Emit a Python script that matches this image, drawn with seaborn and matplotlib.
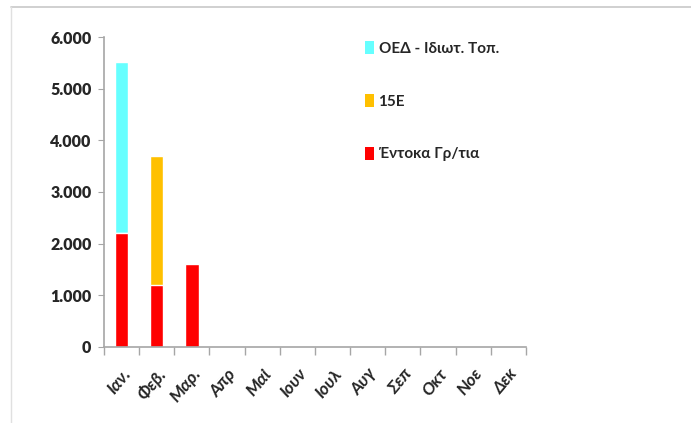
import numpy as np
import pandas as pd
import seaborn as sns
import matplotlib.pyplot as plt
from matplotlib.lines import Line2D
from matplotlib.patches import Patch
from matplotlib.ticker import FuncFormatter, FixedLocator

# Data
months = ['Ιαν.', 'Φεβ.', 'Μαρ.', 'Απρ', 'Μαϊ', 'Ιουν', 'Ιουλ', 'Αυγ', 'Σεπ', 'Οκτ', 'Νοε', 'Δεκ']
entoka = [2200, 1200, 1600, 0, 0, 0, 0, 0, 0, 0, 0, 0]
e15 = [0, 2500, 0, 0, 0, 0, 0, 0, 0, 0, 0, 0]
oed = [3320, 0, 0, 0, 0, 0, 0, 0, 0, 0, 0, 0]

labels = ['ΟΕΔ - Ιδιωτ. Τοπ.', '15Ε', 'Έντοκα Γρ/τια']
colors = ['#66ffff', '#ffc000', '#ff0000']

df = pd.DataFrame({'month': months, 'entoka': entoka, 'e15': e15, 'oed': oed})
df['lvl2'] = df['entoka'] + df['e15']
df['lvl3'] = df['lvl2'] + df['oed']

sns.set_style('white')
plt.rcParams['font.family'] = ['Lato', 'Noto Sans', 'DejaVu Sans']

fig = plt.figure(figsize=(6.91, 4.23), dpi=100)
ax = fig.add_axes([0.1505, 0.1797, 0.6105, 0.7328])

# stacked bars drawn back to front
sns.barplot(data=df, x='month', y='lvl3', color=colors[0], width=0.38, saturation=1, ax=ax)
sns.barplot(data=df, x='month', y='lvl2', color=colors[1], width=0.38, saturation=1, ax=ax)
sns.barplot(data=df, x='month', y='entoka', color=colors[2], width=0.38, saturation=1, ax=ax)

ax.set_xlim(-0.5, len(months) - 0.5)
ax.set_ylim(0, 6000)
ax.set_yticks(range(0, 6001, 1000))
ax.yaxis.set_major_formatter(FuncFormatter(lambda v, p: f'{int(v):,}'.replace(',', '.')))
ax.set_xlabel('')
ax.set_ylabel('')

for s in ['top', 'right']:
    ax.spines[s].set_visible(False)
for s in ['left', 'bottom']:
    ax.spines[s].set_color('#a6a6a6')
    ax.spines[s].set_linewidth(1.2)

ax.tick_params(axis='y', left=True, length=4, color='#a6a6a6', labelsize=11.5, pad=5)
ax.tick_params(axis='x', which='major', bottom=False, labelsize=12.5, pad=10)
ax.xaxis.set_minor_locator(FixedLocator(np.arange(-0.5, len(months), 1)))
ax.tick_params(axis='x', which='minor', bottom=True, length=6, color='#a6a6a6', width=1)
for t in ax.get_yticklabels():
    t.set_fontweight('heavy')
for t in ax.get_xticklabels():
    t.set_fontweight('bold')
    t.set_fontstyle('italic')
    t.set_rotation(50)
    t.set_ha('right')
    t.set_va('top')
    t.set_rotation_mode('anchor')

handles = [Patch(facecolor=c, edgecolor='none') for c in colors]
leg = fig.legend(handles, labels, loc='upper left', bbox_to_anchor=(0.508, 0.935),
                 frameon=False, handlelength=0.6, handleheight=0.9, handletextpad=0.3,
                 labelspacing=2.5, prop={'weight': 'bold', 'size': 11})

# outer frame lines (top and left only)
fig.add_artist(Line2D([0.016, 1.0], [0.983, 0.983], color='#c8c8c8', lw=1.2, transform=fig.transFigure))
fig.add_artist(Line2D([0.016, 0.016], [0.0, 0.983], color='#e0e0e0', lw=1.0, transform=fig.transFigure))

fig.savefig('out.png', dpi=100)
